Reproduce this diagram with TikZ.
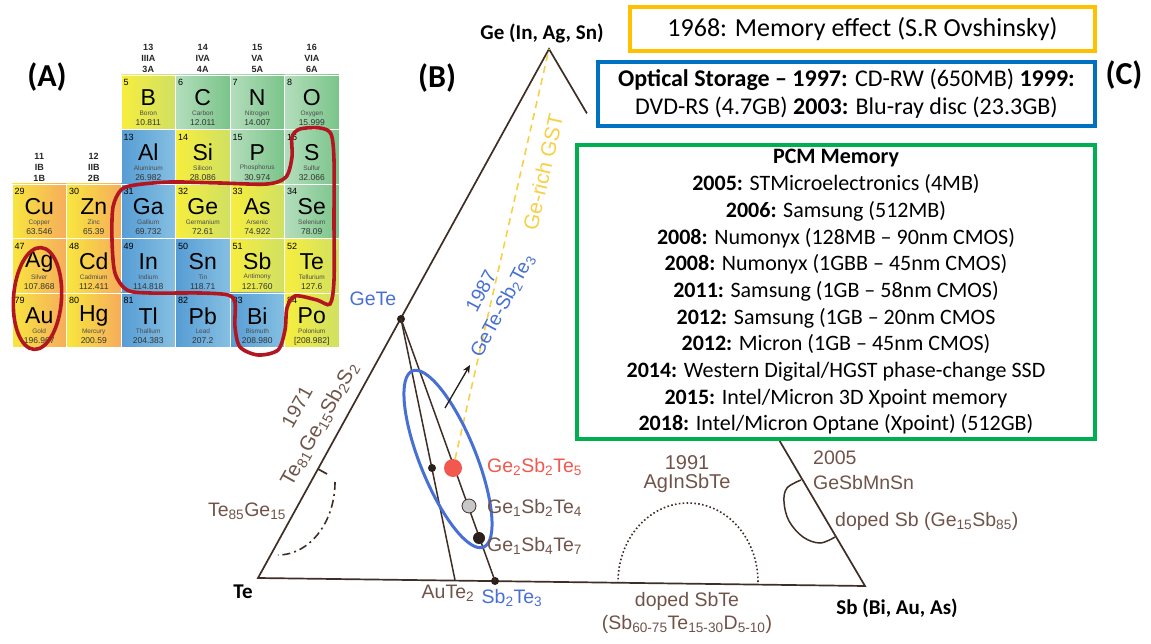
\documentclass[tikz,border=0pt]{standalone}
\usepackage{fontspec}
\setmainfont{Carlito}
\newfontfamily\arialf{Liberation Sans}
\usetikzlibrary{arrows.meta, positioning, calc}
\definecolor{trbrown}{RGB}{62,46,38}
\definecolor{lbbrown}{RGB}{112,84,74}
\definecolor{lbblue}{RGB}{72,112,212}
\definecolor{lbred}{RGB}{242,88,78}
\definecolor{gstgold}{RGB}{248,208,70}
\definecolor{pcmred}{RGB}{178,22,32}
\definecolor{boxyel}{RGB}{255,192,0}
\definecolor{boxblu}{RGB}{0,112,192}
\definecolor{boxgrn}{RGB}{0,176,80}
\definecolor{ptyelA}{RGB}{247,238,62}
\definecolor{ptyelB}{RGB}{208,224,98}
\definecolor{ptorgA}{RGB}{248,230,62}
\definecolor{ptorgB}{RGB}{246,172,92}
\definecolor{ptgrnA}{RGB}{180,222,188}
\definecolor{ptgrnB}{RGB}{122,196,138}
\definecolor{ptbluA}{RGB}{86,156,212}
\definecolor{ptbluB}{RGB}{134,192,226}
\newcommand\fsz[2]{\fontsize{#1}{#2}\selectfont}
\newcommand\sbs[1]{\textsubscript{#1}}

\begin{document}
\begin{tikzpicture}[x=1pt, y=-1pt,
  pcell/.style={minimum width=54.5pt, minimum height=54.5pt, inner sep=0pt, draw=white, line width=0.8pt, left color=pt#1A, right color=pt#1B},
  trline/.style={draw=trbrown, line width=1.7pt},
  redline/.style={draw=pcmred, line width=3.6pt},
  dot/.style={circle, fill=trbrown!70!black, inner sep=0pt, minimum size=#1},
  lbl/.style={font=\arialf\fsz{19.5}{22}, text=lbbrown, inner sep=0pt},
  bluelbl/.style={lbl, text=lbblue},
  hdr/.style={font=\bfseries\fsz{21}{24}, inner sep=0pt},
  panel/.style={font=\bfseries\fsz{32}{34}, inner sep=0pt},
  infobox/.style={draw=#1, line width=4pt, fill=white, inner sep=0pt, align=center}]
\fill[white] (0,0) rectangle (1151,644);
\useasboundingbox (0,0) rectangle (1151,644);

\foreach \c/\r/\z/\s/\n/\m/\k in {2/0/5/B/Boron/10.811/yel, 3/0/6/C/Carbon/12.011/grn, 4/0/7/N/Nitrogen/14.007/grn, 5/0/8/O/Oxygen/15.999/grn,
  2/1/13/Al/Aluminum/26.982/blu, 3/1/14/Si/Silicon/28.086/yel, 4/1/15/P/Phosphorus/30.974/grn, 5/1/16/S/Sulfur/32.066/grn,
  0/2/29/Cu/Copper/63.546/org, 1/2/30/Zn/Zinc/65.39/org, 2/2/31/Ga/Gallium/69.732/blu, 3/2/32/Ge/Germanium/72.61/yel, 4/2/33/As/Arsenic/74.922/yel, 5/2/34/Se/Selenium/78.09/grn,
  0/3/47/Ag/Silver/107.868/org, 1/3/48/Cd/Cadmium/112.411/org, 2/3/49/In/Indium/114.818/blu, 3/3/50/Sn/Tin/118.71/blu, 4/3/51/Sb/Antimony/121.760/yel, 5/3/52/Te/Tellurium/127.6/yel,
  0/4/79/Au/Gold/196.967/org, 1/4/80/Hg/Mercury/200.59/org, 2/4/81/Tl/Thallium/204.383/blu, 3/4/82/Pb/Lead/207.2/blu, 4/4/83/Bi/Bismuth/208.980/blu, 5/4/84/Po/Polonium/{[208.982]}/yel}{
  \node[pcell=\k] (el\s) at ({39.25+54.5*\c},{102.25+54.5*\r}) {};
  \node[anchor=west, inner sep=0pt, font=\arialf\fsz{9}{9}] (el\s-z) at ({14.5+54.5*\c},{82.5+54.5*\r}) {\z};
  \node[inner sep=0pt, font=\arialf\fsz{23}{23}] (el\s-s) at ({39.25+54.5*\c},{98+54.5*\r}) {\s};
  \node[inner sep=0pt, font=\arialf\fsz{6.5}{6.5}, text=black!70] (el\s-n) at ({39.25+54.5*\c},{113.5+54.5*\r}) {\n};
  \node[inner sep=0pt, font=\arialf\fsz{8.5}{8.5}, text=black!80] (el\s-m) at ({39.25+54.5*\c},{123+54.5*\r}) {\m};
}
\foreach \c/\g/\ra/\rb/\y in {2/13/IIIA/3A/58, 3/14/IVA/4A/58, 4/15/VA/5A/58, 5/16/VIA/6A/58, 0/11/IB/1B/167, 1/12/IIB/2B/167}
  \node[font=\arialf\bfseries\fsz{9}{11}, align=center, inner sep=0pt, text=black!85] (grp\g) at ({39.25+54.5*\c},\y) {\g\\\ra\\\rb};

\draw[redline] plot[smooth cycle, tension=0.5] coordinates {(300,129) (320,128) (331,134) (334,160) (334,220) (334,280) (330,304) (317,300) (295,296) (287,308) (285,330) (278,350) (258,355) (240,347) (235,327) (235,303) (228,295) (200,293) (150,293) (127,290) (115,273) (112,240) (113,207) (121,190) (135,185) (170,182) (220,183) (267,184) (286,177) (292,157) (292,137)};
\draw[redline, rotate around={-4:(37.5,298.5)}] (37.5,298.5) ellipse [x radius=24, y radius=51];

\coordinate (ge) at (549,49);
\coordinate (te) at (258,578);
\coordinate (sb) at (865,586);
\coordinate (gecut) at ($(ge)!0.12!(sb)$);
\coordinate (sbcut) at ($(ge)!0.73!(sb)$);
\draw[trline] (gecut) -- (ge) -- (te) -- (sb) -- (sbcut);
\draw[trline] (318,469) -- (327,474);
\draw[trline, line width=1.6pt, dash pattern=on 8pt off 4pt on 2pt off 4pt] plot[domain=0:90, samples=30] ({278+57*cos(\x)}, {482+73*sin(\x)});
\draw[trline, line width=1.6pt, dash pattern=on 1.6pt off 2.3pt] plot[domain=0:180, samples=60] ({688+70*cos(\x)}, {582-79*sin(\x)});
\draw[trline, line width=1.5pt] plot[smooth, tension=0.6] coordinates {(801,480) (787,488) (784,502) (789,521) (803,537) (820,543) (835,537)};

\node[dot=8pt] (gete) at (401,319) {};
\coordinate (aute) at (455,580);
\node[dot=8pt] (sbte) at (495,581) {};
\draw[trline, line width=1.5pt] (gete.center) -- (aute);
\draw[trline, line width=1.5pt] (gete.center) -- (sbte.center);
\node[dot=8pt] (aupt) at (432,468) {};
\node[circle, fill=lbred, inner sep=0pt, minimum size=18pt] (gst225) at (453,468) {};
\node[circle, fill=black!22, draw=trbrown, line width=0.8pt, inner sep=0pt, minimum size=14pt] (gst124) at (469,506) {};
\node[dot=12pt] (gst147) at (479,538) {};
\draw[gstgold, line width=1.6pt, dash pattern=on 7pt off 5pt] (gst225) -- (ge);
\draw[lbblue, line width=3pt, rotate around={-68:(448,459)}] (448,459) ellipse [x radius=95, y radius=28];
\coordinate (arrs) at (445,408);
\coordinate (arre) at (470,365);
\draw[trbrown!60!black, line width=1.3pt, -{Stealth[length=8pt, width=7pt]}] (arrs) -- (arre);

\node[hdr] (geL) at (542,33) {Ge (In, Ag, Sn)};
\node[hdr] (teL) at (243,592) {Te};
\node[hdr] (sbL) at (897,608) {Sb (Bi, Au, As)};
\node[panel] (pA) at (47,77) {(A)};
\node[panel] (pB) at (437,78) {(B)};
\node[panel] (pC) at (1124,75) {(C)};

\node[bluelbl] (geteL) at (373,299) {GeTe};
\node[bluelbl, rotate=62] (gsyL) at (481,291) {1987};
\node[bluelbl, rotate=62] (gsL) at (503,306) {GeTe-Sb\sbs{2}Te\sbs{3}};
\node[lbl, text=gstgold, rotate=77, font=\arialf\fsz{21}{22}] (grL) at (543,172) {Ge-rich GST};
\node[lbl, rotate=61] (tgsyL) at (297,407) {1971};
\node[lbl, rotate=61, font=\arialf\fsz{20.5}{22}] (tgssL) at (320,424) {Te\sbs{81}Ge\sbs{15}Sb\sbs{2}S\sbs{2}};
\node[lbl] (tgL) at (247,511) {Te\sbs{85}Ge\sbs{15}};
\node[lbl, text=lbred, anchor=west] (g225L) at (487,467) {Ge\sbs{2}Sb\sbs{2}Te\sbs{5}};
\node[lbl, anchor=west] (g124L) at (487,508) {Ge\sbs{1}Sb\sbs{2}Te\sbs{4}};
\node[lbl, anchor=west] (g147L) at (487,546) {Ge\sbs{1}Sb\sbs{4}Te\sbs{7}};
\node[lbl] (auteL) at (448,593) {AuTe\sbs{2}};
\node[bluelbl] (sbteL) at (512,598) {Sb\sbs{2}Te\sbs{3}};
\node[lbl, align=center, font=\arialf\fsz{20}{19}] (aistL) at (687,474) {1991\\AgInSbTe};
\node[lbl, align=center, font=\arialf\fsz{19.5}{23}] (dstL) at (687,613) {doped SbTe\\(Sb\sbs{60-75}Te\sbs{15-30}D\sbs{5-10})};
\node[lbl, align=left, anchor=north west, font=\arialf\fsz{19.5}{25}] (gsmsL) at (813,451) {2005\\GeSbMnSn};
\node[lbl, anchor=west] (dsbL) at (835,521) {doped Sb (Ge\sbs{15}Sb\sbs{85})};

\node[infobox=boxyel, minimum width=465pt, minimum height=44pt, font=\fsz{26}{28}] (memB) at (862.5,29) {1968: Memory effect (S.R Ovshinsky)};
\node[infobox=boxblu, minimum width=497pt, minimum height=64pt, font=\fsz{24}{28}] (optB) at (846.5,94) {\textbf{Optical Storage – 1997:} CD-RW (650MB) \textbf{1999:}\\DVD-RS (4.7GB) \textbf{2003:} Blu-ray disc (23.3GB)};
\node[infobox=boxgrn, minimum width=518pt, minimum height=294pt, font=\fsz{22}{26.7}] (pcmB) at (836,292) {\textbf{PCM Memory}\\
  \textbf{2005:} STMicroelectronics (4MB)\\
  \textbf{2006:} Samsung (512MB)\\
  \textbf{2008:} Numonyx (128MB – 90nm CMOS)\\
  \textbf{2008:} Numonyx (1GBB – 45nm CMOS)\\
  \textbf{2011:} Samsung (1GB – 58nm CMOS)\\
  \textbf{2012:} Samsung (1GB – 20nm CMOS\\
  \textbf{2012:} Micron (1GB – 45nm CMOS)\\
  \textbf{2014:} Western Digital/HGST phase-change SSD\\
  \textbf{2015:} Intel/Micron 3D Xpoint memory\\
  \textbf{2018:} Intel/Micron Optane (Xpoint) (512GB)};
\end{tikzpicture}
\end{document}
